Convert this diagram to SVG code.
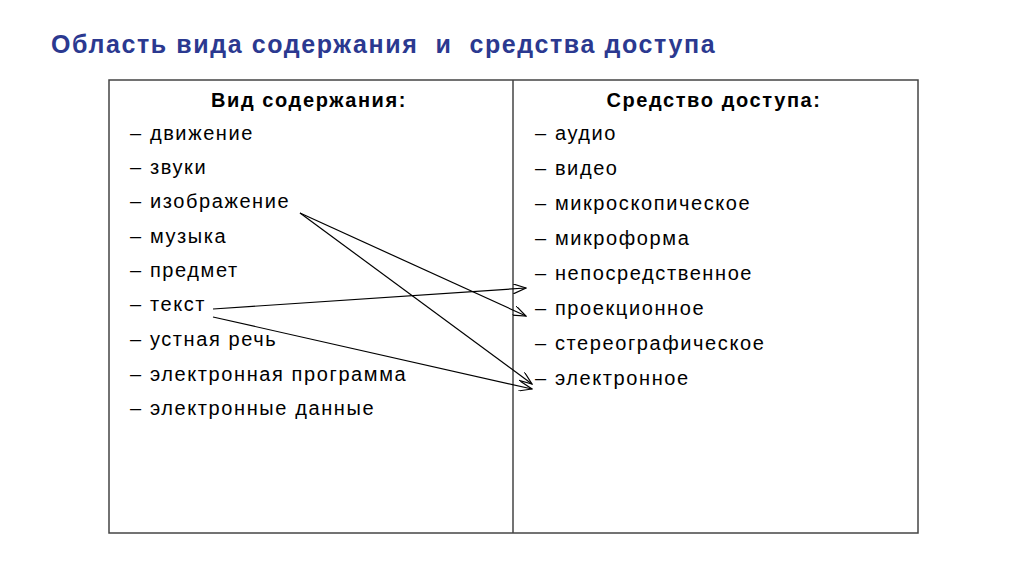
<svg xmlns="http://www.w3.org/2000/svg" width="1024" height="576" viewBox="0 0 1024 576">
<style>
text{font-family:"Liberation Sans",Arial,sans-serif;fill:#000;font-size:20px;letter-spacing:1.6px}
.t{fill:#2b3990;font-size:25px;font-weight:bold;letter-spacing:1.6px}
.h{font-weight:bold;text-anchor:middle}
.c{stroke:#000;stroke-width:1.2;fill:none;marker-end:url(#a)}
</style>
<defs><marker id="a" markerWidth="14" markerHeight="10" refX="13" refY="5" orient="auto" markerUnits="userSpaceOnUse"><path d="M0,0 L13,5 L0,10" fill="none" stroke="#000" stroke-width="1.2"/></marker></defs>
<rect width="1024" height="576" fill="#fff"/>
<text class="t" x="51" y="53" xml:space="preserve">Область вида содержания  и  средства доступа</text>
<g id="table" fill="none" stroke="#444" stroke-width="1.5">
<rect x="109" y="80" width="809" height="453"/>
<line x1="513" y1="80" x2="513" y2="533"/>
</g>
<g id="left">
<text class="h" x="309" y="107">Вид содержания:</text>
<text x="130" y="140">– движение</text>
<text x="130" y="174">– звуки</text>
<text x="130" y="208">– изображение</text>
<text x="130" y="243">– музыка</text>
<text x="130" y="277">– предмет</text>
<text x="130" y="311">– текст</text>
<text x="130" y="346">– устная речь</text>
<text x="130" y="381">– электронная программа</text>
<text x="130" y="415">– электронные данные</text>
</g>
<g id="right">
<text class="h" x="714" y="107">Средство доступа:</text>
<text x="535" y="140">– аудио</text>
<text x="535" y="175">– видео</text>
<text x="535" y="210">– микроскопическое</text>
<text x="535" y="245">– микроформа</text>
<text x="535" y="280">– непосредственное</text>
<text x="535" y="315">– проекционное</text>
<text x="535" y="350">– стереографическое</text>
<text x="535" y="385">– электронное</text>
</g>
<g id="connectors">
<line class="c" x1="300" y1="213" x2="526" y2="316"/>
<line class="c" x1="300" y1="213" x2="532" y2="384"/>
<line class="c" x1="213" y1="309" x2="526" y2="288"/>
<line class="c" x1="213" y1="317" x2="532" y2="389"/>
</g>
</svg>
